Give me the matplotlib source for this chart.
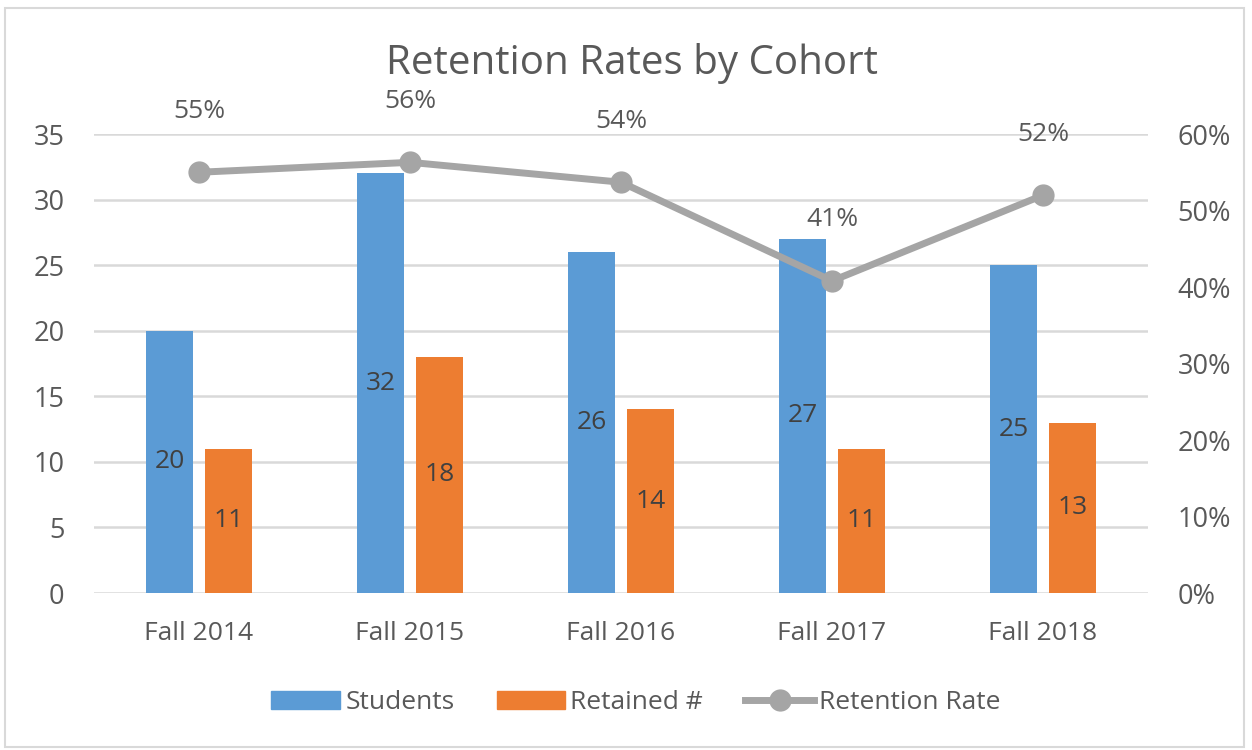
import matplotlib.pyplot as plt
import matplotlib.patches as mpatches
from matplotlib.lines import Line2D
import numpy as np

cohorts = ['Fall 2014', 'Fall 2015', 'Fall 2016', 'Fall 2017', 'Fall 2018']
students = [20, 32, 26, 27, 25]
retained = [11, 18, 14, 11, 13]
retention_rate = [0.55, 0.563, 0.537, 0.408, 0.52]
rate_labels = ['55%', '56%', '54%', '41%', '52%']

plt.rcParams['font.family'] = ['Open Sans', 'DejaVu Sans']

blue = '#5B9BD5'
orange = '#ED7D31'
grey = '#A5A5A5'
txt = '#595959'

fig = plt.figure(figsize=(12.52, 7.5), dpi=100)
fig.patches.append(mpatches.Rectangle((0.004, 0.004), 0.99, 0.986, transform=fig.transFigure,
                                      fill=False, edgecolor='#D9D9D9', linewidth=1.5))

ax1 = fig.add_axes([0.0747, 0.2093, 0.8426, 0.612])
ax2 = ax1.twinx()

x = np.arange(len(cohorts))
w = 0.22
off = 0.14

ax1.bar(x - off, students, w, color=blue, zorder=3)
ax1.bar(x + off, retained, w, color=orange, zorder=3)

for i in range(len(cohorts)):
    ax1.text(x[i] - off, students[i] / 2, str(students[i]), ha='center', va='center',
             fontsize=19, color='#404040', zorder=4)
    ax1.text(x[i] + off, retained[i] / 2, str(retained[i]), ha='center', va='center',
             fontsize=19, color='#404040', zorder=4)

ax1.set_ylim(0, 35)
ax1.set_yticks(range(0, 36, 5))
ax1.set_xlim(-0.5, len(cohorts) - 0.5)
ax1.set_xticks(x)
ax1.set_xticklabels(cohorts)
ax1.grid(axis='y', color='#D9D9D9', linewidth=1.8, zorder=0)
ax1.set_axisbelow(True)

ax2.plot(x, retention_rate, color=grey, linewidth=5, marker='o', markersize=15, zorder=5)
for i in range(len(cohorts)):
    ax2.annotate(rate_labels[i], (x[i], retention_rate[i]), xytext=(0, 44),
                 textcoords='offset points', ha='center', va='center', fontsize=19, color=txt)
ax2.set_ylim(0, 0.6)
ax2.set_yticks(np.arange(0, 0.61, 0.1))
ax2.set_yticklabels(['{:.0f}%'.format(v * 100) for v in np.arange(0, 0.61, 0.1)])

for a in (ax1, ax2):
    for s in a.spines.values():
        s.set_visible(False)
    a.tick_params(length=0, labelsize=19.5, colors=txt)
ax1.tick_params(axis='y', pad=21)
ax1.tick_params(axis='x', pad=20, labelsize=19)
ax2.tick_params(axis='y', pad=21)

# line axis drawn above the bars
ax1.set_zorder(1)
ax2.set_zorder(2)
ax2.patch.set_visible(False)

fig.text(0.505, 0.916, 'Retention Rates by Cohort', ha='center', va='center', fontsize=29, color=txt)

handles = [mpatches.Patch(color=blue, label='Students'),
           mpatches.Patch(color=orange, label='Retained #'),
           Line2D([0], [0], color=grey, linewidth=5, marker='o', markersize=15, label='Retention Rate')]
fig.legend(handles=handles, loc='center', bbox_to_anchor=(0.508, 0.063), ncol=3, frameon=False,
           fontsize=19, labelcolor=txt, handlelength=2.6, handleheight=0.7, columnspacing=1.6,
           handletextpad=0.2)

plt.savefig('out.png', dpi=100)
